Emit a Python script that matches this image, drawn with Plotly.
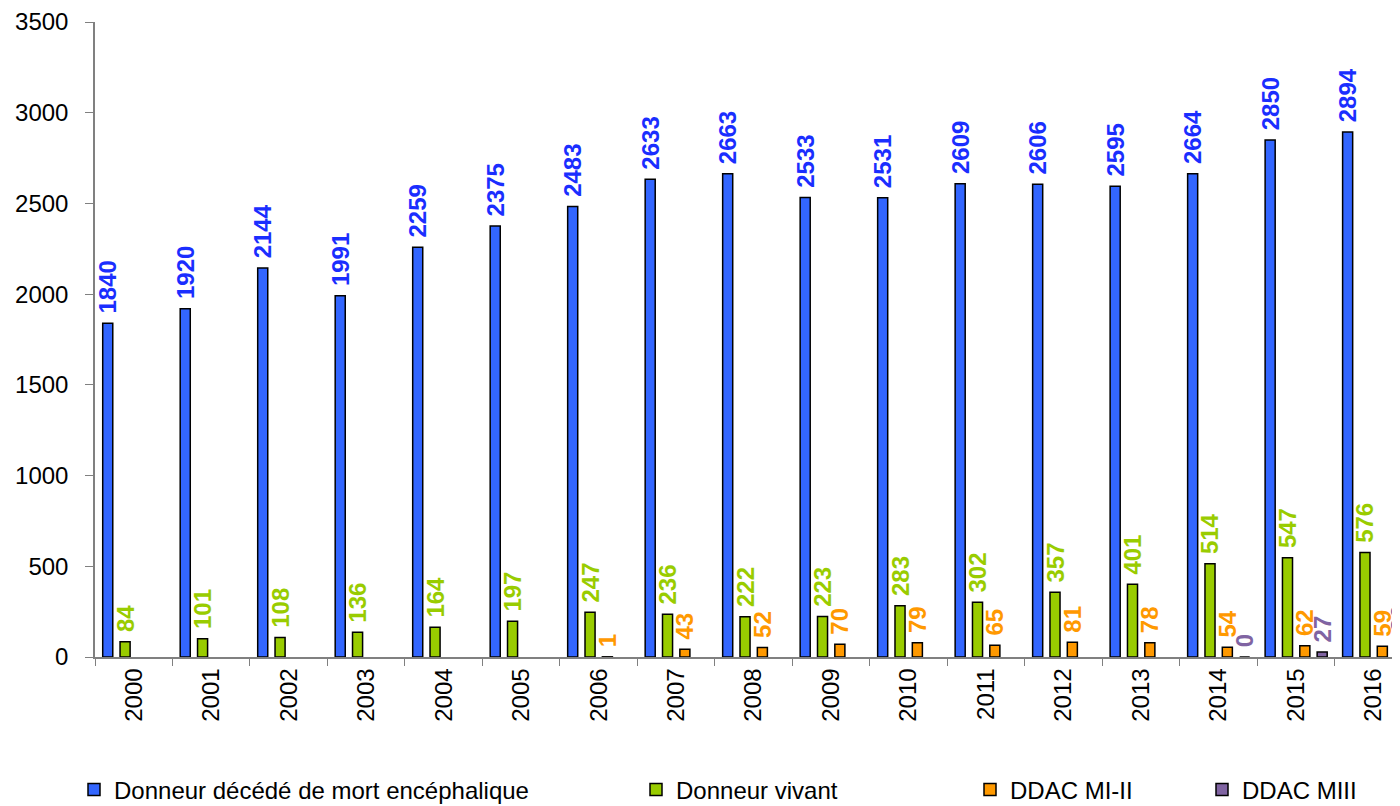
import plotly.graph_objects as go

years = [str(y) for y in range(2000, 2017)]
dme = [1840, 1920, 2144, 1991, 2259, 2375, 2483, 2633, 2663, 2533, 2531, 2609, 2606, 2595, 2664, 2850, 2894]
vivant = [84, 101, 108, 136, 164, 197, 247, 236, 222, 223, 283, 302, 357, 401, 514, 547, 576]
ddac_mi_ii = [None, None, None, None, None, None, 1, 43, 52, 70, 79, 65, 81, 78, 54, 62, 59]
ddac_miii = [None] * 14 + [0, 27, 86]
yticks = [0, 500, 1000, 1500, 2000, 2500, 3000, 3500]

series = [
    ("Donneur décédé de mort encéphalique", dme, "#3366FF", "#1A2EFF", "legend"),
    ("Donneur vivant", vivant, "#99CC00", "#99CC00", "legend2"),
    ("DDAC MI-II", ddac_mi_ii, "#FF9900", "#FF9900", "legend3"),
    ("DDAC MIII", ddac_miii, "#8064A2", "#8064A2", "legend4"),
]

FONT = "Arial, Liberation Sans, sans-serif"
# page body has an 8px margin: figure is sized so it ends at the window edge
OFF = 8
W, H = 1400 - OFF, 806 - OFF

fig = go.Figure()
for name, vals, fill, tcol, lg in series:
    fig.add_trace(go.Bar(
        x=years, y=vals, name=name, legend=lg, showlegend=True,
        marker=dict(color=fill, line=dict(color="#000000", width=1.5)),
        text=["" if v is None else "\u00a0" + str(v) for v in vals],
        textposition="outside", textangle=-90, constraintext="none",
        cliponaxis=False,
        textfont=dict(family=FONT, size=24, color=tcol, weight="bold"),
    ))

leg_common = dict(orientation="h", xref="container", yref="container",
                  yanchor="middle", xanchor="left", y=1 - (790 - OFF) / H,
                  font=dict(family=FONT, size=24, color="#000000"),
                  bgcolor="rgba(0,0,0,0)", itemwidth=30)
fig.update_layout(
    width=W, height=H, showlegend=True,
    margin=dict(l=95 - OFF, r=0, t=20 - OFF, b=H - (657 - OFF)),
    plot_bgcolor="white", paper_bgcolor="white",
    barmode="group", bargap=0.105, bargroupgap=0.42,
    font=dict(family=FONT, color="#000000"),
    legend=dict(leg_common, x=(114 - OFF - 40) / W),
    legend2=dict(leg_common, x=(676 - OFF - 40) / W),
    legend3=dict(leg_common, x=(1010 - OFF - 40) / W),
    legend4=dict(leg_common, x=(1242 - OFF - 40) / W),
    xaxis=dict(type="category", range=[-0.5, 16.34], tickangle=-90,
               tickson="boundaries", ticks="outside", ticklen=7,
               tickcolor="#808080", showline=True, linecolor="#808080",
               linewidth=1.5, showgrid=False,
               tickfont=dict(family=FONT, size=24, color="#000000")),
    yaxis=dict(range=[0, 3500], tickvals=yticks, ticks="outside", ticklen=8,
               tickcolor="#808080", showline=True, linecolor="#808080",
               linewidth=1.5, showgrid=False, zeroline=False,
               ticklabelstandoff=12, ticklabeloverflow="allow",
               tickfont=dict(family=FONT, size=24, color="#000000")),
)
fig.write_html("out.html")
